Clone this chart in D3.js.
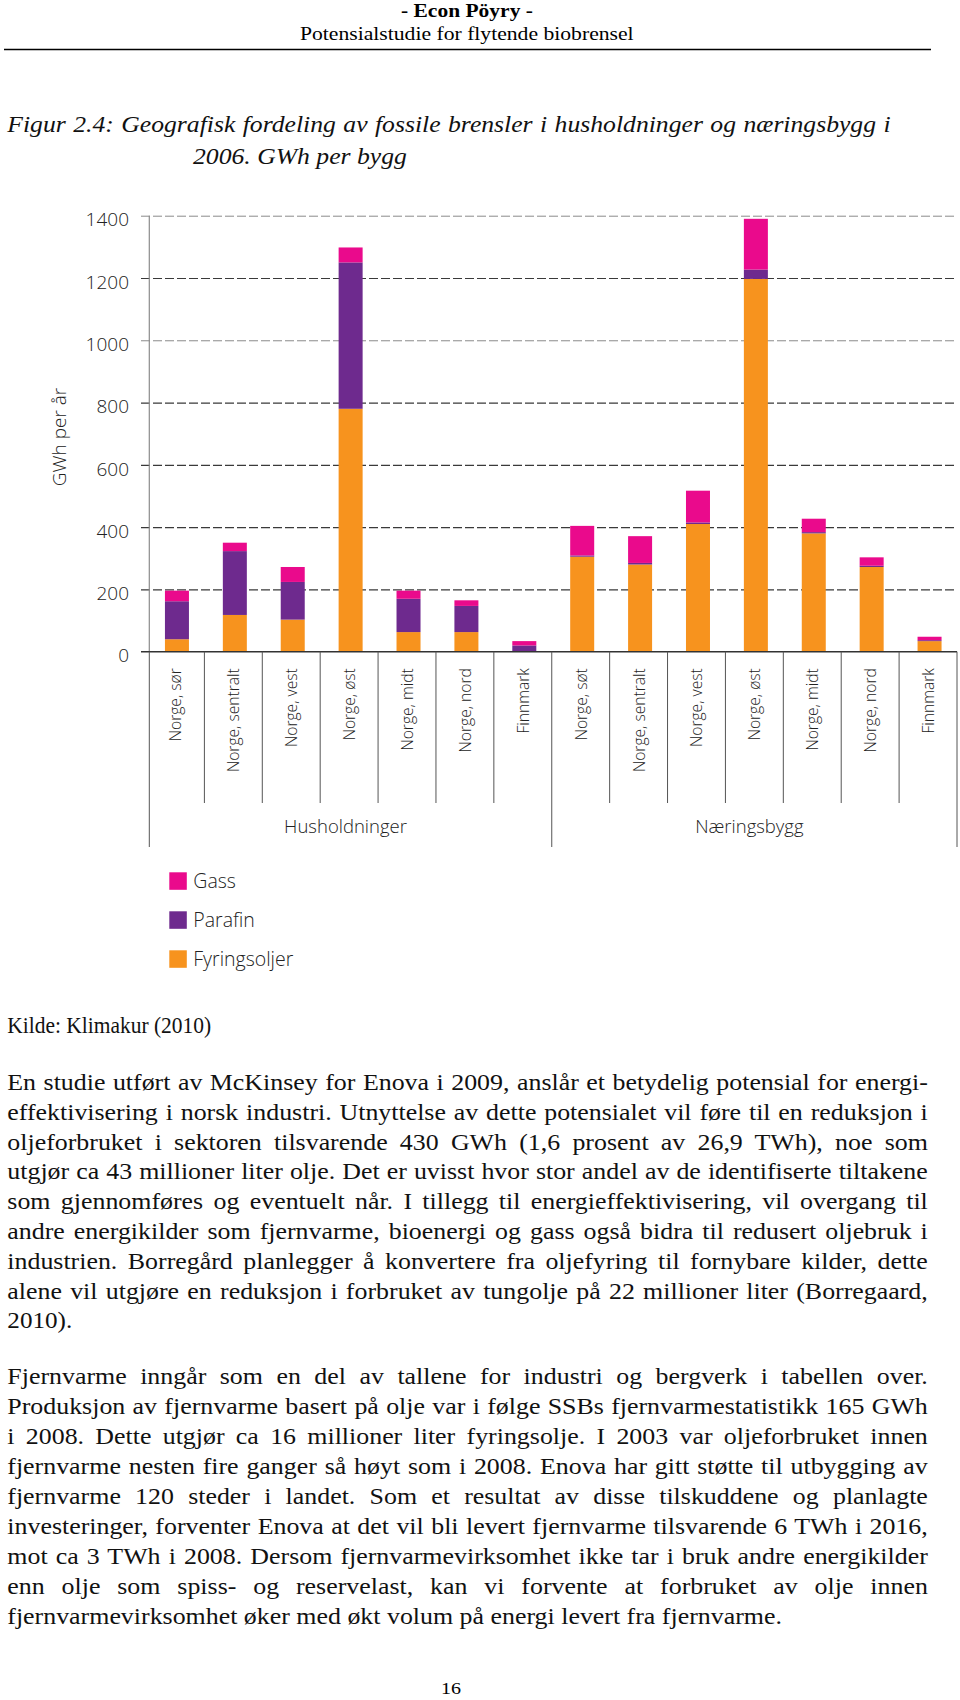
<!DOCTYPE html>
<html>
<head>
<meta charset="utf-8">
<script src="https://cdn.jsdelivr.net/npm/d3@7"></script>
<style>
  html, body { margin: 0; padding: 0; background: #fff; }
  svg { display: block; }
</style>
</head>
<body>
<div id="chart"></div>
<script>
// ---------- DATA ----------
const categories = ["Norge, sør","Norge, sentralt","Norge, vest","Norge, øst","Norge, midt","Norge, nord","Finnmark",
                    "Norge, søt","Norge, sentralt","Norge, vest","Norge, øst","Norge, midt","Norge, nord","Finnmark"];
const fyringsoljer = [40,118,103,780,63,63,0, 305,280,410,1197,380,272,34];
const parafin      = [122,205,121,470,107,84,20, 4,5,5,30,4,4,3];
const gass         = [34,27,48,48,26,18,14, 95,86,102,163,43,27,11];
const seriesNames  = ["Fyringsoljer","Parafin","Gass"];
const legendOrder  = ["Gass","Parafin","Fyringsoljer"];
const groupNames   = ["Husholdninger","Næringsbygg"];
const groupSizes   = [7,7];
const yTicks       = [0,200,400,600,800,1000,1200,1400];
const yTitle       = "GWh per år";

const headerLines  = ["- Econ Pöyry -","Potensialstudie for flytende biobrensel"];
const captionLines = ["Figur 2.4: Geografisk fordeling av fossile brensler i husholdninger og næringsbygg i","2006. GWh per bygg"];
const sourceLine   = "Kilde: Klimakur (2010)";
const para1 = [
  "En studie utført av McKinsey for Enova i 2009, anslår et betydelig potensial for energi-",
  "effektivisering i norsk industri. Utnyttelse av dette potensialet vil føre til en reduksjon i",
  "oljeforbruket i sektoren tilsvarende 430 GWh (1,6 prosent av 26,9 TWh), noe som",
  "utgjør ca 43 millioner liter olje. Det er uvisst hvor stor andel av de identifiserte tiltakene",
  "som gjennomføres og eventuelt når. I tillegg til energieffektivisering, vil overgang til",
  "andre energikilder som fjernvarme, bioenergi og gass også bidra til redusert oljebruk i",
  "industrien. Borregård planlegger å konvertere fra oljefyring til fornybare kilder, dette",
  "alene vil utgjøre en reduksjon i forbruket av tungolje på 22 millioner liter (Borregaard,",
  "2010)."
];
const para2 = [
  "Fjernvarme inngår som en del av tallene for industri og bergverk i tabellen over.",
  "Produksjon av fjernvarme basert på olje var i følge SSBs fjernvarmestatistikk 165 GWh",
  "i 2008. Dette utgjør ca 16 millioner liter fyringsolje. I 2003 var oljeforbruket innen",
  "fjernvarme nesten fire ganger så høyt som i 2008. Enova har gitt støtte til utbygging av",
  "fjernvarme 120 steder i landet. Som et resultat av disse tilskuddene og planlagte",
  "investeringer, forventer Enova at det vil bli levert fjernvarme tilsvarende 6 TWh i 2016,",
  "mot ca 3 TWh i 2008. Dersom fjernvarmevirksomhet ikke tar i bruk andre energikilder",
  "enn olje som spiss- og reservelast, kan vi forvente at forbruket av olje innen",
  "fjernvarmevirksomhet øker med økt volum på energi levert fra fjernvarme."
];
const pageNumber = "16";

// ---------- SETUP ----------
const W = 960, H = 1700;
const colors = { "Gass": "#EA0A8C", "Parafin": "#6E2A8E", "Fyringsoljer": "#F7931E" };
const serif = "'Liberation Serif','Times New Roman',serif";
const sans = "'Open Sans','Noto Sans',sans-serif";

const svg = d3.select("#chart").append("svg").attr("width", W).attr("height", H)
  .attr("viewBox", `0 0 ${W} ${H}`);
svg.append("rect").attr("width", W).attr("height", H).attr("fill", "#fff");

// text line helper: fit (scale to width) or justify (given scale, add word spacing)
function placeLine(str, x, y, width, mode, s0, attrs) {
  const g = svg.append("g");
  const t = g.append("text").attr("x", 0).attr("y", 0).text(str);
  Object.entries(attrs).forEach(([k, v]) => t.attr(k, v));
  const nat = t.node().getComputedTextLength();
  let s;
  if (mode === "fit") {
    s = width / nat;
  } else {
    s = s0;
    const local = width / s;
    const spaces = (str.match(/ /g) || []).length;
    let ws = spaces ? (local - nat) / spaces : 0;
    if (ws < -1.5 || !spaces) { s = width / nat; ws = 0; }
    t.attr("word-spacing", ws);
  }
  g.attr("transform", `translate(${x},${y}) scale(${s},1)`);
  return s;
}

const bodyAttrs = { "font-family": serif, "font-size": 22.5, "fill": "#111" };

// Header
placeLine(headerLines[0], 401, 17, 132, "fit", 1, { "font-family": serif, "font-size": 18.5, "font-weight": "bold", "fill": "#000" });
placeLine(headerLines[1], 300, 39.5, 334, "fit", 1, { "font-family": serif, "font-size": 18.5, "fill": "#000" });
svg.append("line").attr("x1", 4).attr("x2", 931).attr("y1", 49.5).attr("y2", 49.5)
  .attr("stroke", "#000").attr("stroke-width", 1.3);

// Caption
const capAttrs = { "font-family": serif, "font-size": 23, "font-style": "italic", "fill": "#111" };
const sCap = placeLine(captionLines[1], 193, 163.5, 214, "fit", 1, capAttrs);
placeLine(captionLines[0], 7.3, 131.7, 884, "justify", sCap, capAttrs);

// Source + paragraphs
placeLine(sourceLine, 7.3, 1033, 204, "fit", 1, bodyAttrs);
const sBody = placeLine(para2[8], 7.3, 1383.5 + 8 * 30, 775, "fit", 1, bodyAttrs);
para1.forEach((ln, i) => {
  const yy = 1090 + i * 29.8;
  if (i === para1.length - 1) placeLine(ln, 7.3, yy, 65, "fit", 1, bodyAttrs);
  else placeLine(ln, 7.3, yy, 921, "justify", sBody, bodyAttrs);
});
para2.forEach((ln, i) => {
  if (i === para2.length - 1) return;
  placeLine(ln, 7.3, 1383.5 + i * 30, 921, "justify", sBody, bodyAttrs);
});
placeLine(pageNumber, 441, 1694, 20, "fit", 1, { "font-family": serif, "font-size": 16, "fill": "#000" });

// ---------- CHART ----------
const idx = d3.range(categories.length);
const x = d3.scaleBand().domain(idx).range([146.5, 957]).padding(0);
const y = d3.scaleLinear().domain([0, 1400]).range([651.7, 215.7]);
const axisX0 = 149.3, y0 = y(0);

const table = idx.map(i => ({ i, "Fyringsoljer": fyringsoljer[i], "Parafin": parafin[i], "Gass": gass[i] }));
const stacked = d3.stack().keys(seriesNames)(table);

// gridlines + tick labels
const yAxis = svg.append("g").attr("transform", "translate(141,0)")
  .call(d3.axisLeft(y).tickValues(yTicks).tickSize(-(957 - 141)).tickPadding(12).tickFormat(d3.format("d")));
yAxis.select(".domain").remove();
yAxis.selectAll(".tick line")
  .attr("stroke", d => (d === 1400 || d === 1000) ? "#8a8a8a" : "#3a3a3a")
  .attr("stroke-width", d => (d === 1400 || d === 1000) ? 1 : 1.2)
  .attr("stroke-dasharray", d => d === 0 ? null : "9,3")
  .attr("opacity", d => d === 0 ? 0 : 1);
yAxis.selectAll(".tick text")
  .attr("font-family", sans).attr("font-size", 19).attr("font-weight", 300)
  .attr("fill", "#222").attr("dy", "0.75em").attr("y", -4);

// y axis vertical line
svg.append("line").attr("x1", axisX0).attr("x2", axisX0).attr("y1", y(1400)).attr("y2", y0)
  .attr("stroke", "#8c8c8c").attr("stroke-width", 1.2);

// bars
const barW = 24;
svg.append("g").selectAll("g").data(stacked).join("g")
  .attr("fill", d => colors[d.key])
  .selectAll("rect").data(d => d).join("rect")
  .attr("x", d => x(d.data.i) + (x.bandwidth() - barW) / 2 + 1.5)
  .attr("width", barW)
  .attr("y", d => y(d[1]))
  .attr("height", d => Math.max(0, y(d[0]) - y(d[1])));

// x axis line
svg.append("line").attr("x1", 141).attr("x2", 957).attr("y1", y0).attr("y2", y0)
  .attr("stroke", "#333").attr("stroke-width", 1.4);

// category separators
const bounds = d3.range(1, categories.length);
svg.append("g").selectAll("line").data(bounds).join("line")
  .attr("x1", i => x(i)).attr("x2", i => x(i))
  .attr("y1", y0).attr("y2", i => i === groupSizes[0] ? 847 : 803)
  .attr("stroke", "#555").attr("stroke-width", 1);
svg.append("line").attr("x1", axisX0).attr("x2", axisX0).attr("y1", y0).attr("y2", 847)
  .attr("stroke", "#555").attr("stroke-width", 1);
svg.append("line").attr("x1", 957).attr("x2", 957).attr("y1", y0).attr("y2", 847)
  .attr("stroke", "#555").attr("stroke-width", 1);

// category labels
const xAxis = svg.append("g").attr("transform", `translate(0,${y0})`)
  .call(d3.axisBottom(x).tickSize(0).tickFormat(i => categories[i]));
xAxis.select(".domain").remove();
xAxis.selectAll(".tick text")
  .attr("transform", "rotate(-90)")
  .attr("text-anchor", "end")
  .attr("x", -16.5).attr("y", 6).attr("dy", 0)
  .attr("font-family", sans).attr("font-size", 15.6).attr("font-weight", 300).attr("fill", "#222");

// group labels
let start = 0;
const groupCenters = groupSizes.map(n => {
  const a = start === 0 ? axisX0 : x(start);
  const endIdx = start + n;
  const b = endIdx >= categories.length ? 957 : x(endIdx);
  start = endIdx;
  return (a + b) / 2 - 5;
});
svg.append("g").selectAll("text").data(groupNames).join("text")
  .attr("x", (d, i) => groupCenters[i]).attr("y", 833)
  .attr("text-anchor", "middle")
  .attr("font-family", sans).attr("font-size", 18.5).attr("font-weight", 300).attr("fill", "#222")
  .text(d => d);

// y title
svg.append("text")
  .attr("transform", `translate(66,437) rotate(-90)`)
  .attr("text-anchor", "middle")
  .attr("font-family", sans).attr("font-size", 19).attr("font-weight", 300).attr("fill", "#222")
  .text(yTitle);

// legend
const leg = svg.append("g").selectAll("g").data(legendOrder).join("g")
  .attr("transform", (d, i) => `translate(169.3,${872.3 + i * 39})`);
leg.append("rect").attr("width", 17.5).attr("height", 17.5).attr("fill", d => colors[d]);
leg.append("text").attr("x", 24).attr("y", 15.5)
  .attr("font-family", sans).attr("font-size", 19.5).attr("font-weight", 300).attr("fill", "#222")
  .text(d => d);
</script>
</body>
</html>
